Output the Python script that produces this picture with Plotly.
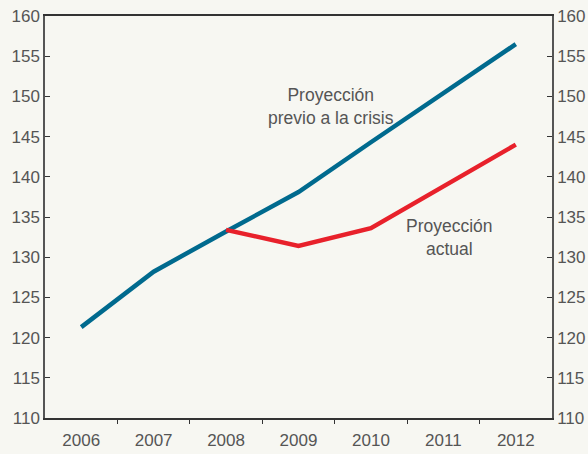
import plotly.graph_objects as go

years = ["2006", "2007", "2008", "2009", "2010", "2011", "2012"]
pre_crisis = [121.3, 128.2, 133.2, 138.1, 144.3, 150.4, 156.5]
actual_years = ["2008", "2009", "2010", "2011", "2012"]
actual = [133.4, 131.4, 133.6, 138.8, 144.0]
y_ticks = [110, 115, 120, 125, 130, 135, 140, 145, 150, 155, 160]

BLUE = "#006a8e"
RED = "#e8212b"
GREY = "#555555"
BG = "#f7f7f2"
FONT = "Liberation Sans, Arial, sans-serif"

fig = go.Figure()
fig.add_trace(go.Scatter(x=years, y=pre_crisis, mode="lines",
                         line=dict(color=BLUE, width=4.5), showlegend=False, hoverinfo="skip"))
fig.add_trace(go.Scatter(x=actual_years, y=actual, mode="lines",
                         line=dict(color=RED, width=4.5), showlegend=False, hoverinfo="skip"))
# invisible trace to activate the right axis and the boundary-tick axis
positions = list(range(len(years)))
fig.add_trace(go.Scatter(x=positions, y=pre_crisis, mode="lines", xaxis="x2", yaxis="y2",
                         line=dict(color="rgba(0,0,0,0)", width=0), showlegend=False, hoverinfo="skip"))

fig.add_annotation(x=3.45, y=148.8, xref="x", yref="y",
                   text="Proyección<br>previo a la crisis", showarrow=False,
                   font=dict(family=FONT, size=17.5, color=GREY), align="center")
fig.add_annotation(x=5.08, y=132.4, xref="x", yref="y",
                   text="Proyección<br>actual", showarrow=False,
                   font=dict(family=FONT, size=17.5, color=GREY), align="center")

axis_common = dict(range=[110, 160], tickvals=y_ticks, ticks="inside", ticklen=5,
                   tickcolor="#333333", tickwidth=1, showgrid=False, zeroline=False,
                   showline=True, linecolor="#555555", linewidth=1.5, automargin=False,
                   tickfont=dict(family=FONT, size=17, color=GREY))

boundaries = [p + 0.5 for p in positions[:-1]]

fig.update_layout(
    width=588, height=454,
    margin=dict(l=45, r=36, t=16, b=36, autoexpand=False),
    paper_bgcolor=BG, plot_bgcolor=BG,
    xaxis=dict(type="category", categoryorder="array", categoryarray=years,
               range=[-0.5, 6.5], ticks="", showgrid=False, zeroline=False, automargin=False,
               showline=True, linecolor="#333333", linewidth=1.5, mirror=True,
               ticklabelstandoff=6,
               tickfont=dict(family=FONT, size=17, color=GREY)),
    xaxis2=dict(overlaying="x", side="bottom", range=[-0.5, 6.5], tickvals=boundaries,
                ticks="outside", ticklen=5, tickcolor="#333333", showticklabels=False,
                showgrid=False, zeroline=False, showline=False, automargin=False),
    yaxis=dict(**axis_common, side="left"),
    yaxis2=dict(**axis_common, side="right", overlaying="y"),
)

fig.write_html("out.html", config={"displayModeBar": False},
               post_script="document.body.style.margin='0';document.body.style.background='#f7f7f2';")
